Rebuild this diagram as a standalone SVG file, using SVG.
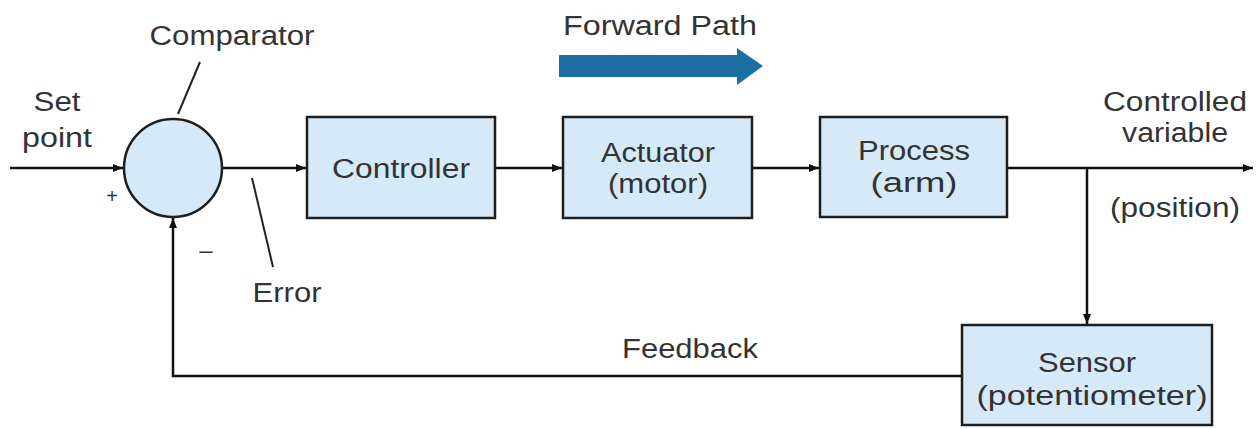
<svg xmlns="http://www.w3.org/2000/svg" width="1257" height="429" viewBox="0 0 1257 429">
<style>
text{font-family:"Liberation Sans",Arial,sans-serif;font-size:27px;fill:#333;}
.c{text-anchor:middle;}
.box{fill:#d6e9f8;stroke:#1e1e1e;stroke-width:2.5;}
.ln{fill:none;stroke:#111;stroke-width:2.5;}
.ptr{fill:none;stroke:#222;stroke-width:2;}
</style>
<defs>
<marker id="ah" viewBox="0 0 10 8" refX="10" refY="4" markerWidth="10" markerHeight="8" markerUnits="userSpaceOnUse" orient="auto">
<path d="M0,0 L10,4 L0,8 Z" fill="#111"/>
</marker>
</defs>
<rect width="1257" height="429" fill="#fff"/>
<g id="forward-path">
<polygon points="559,55 737,55 737,48 763,66 737,85 737,77 559,77" fill="#1b6fa3"/>
<text x="660" y="35" class="c" textLength="194" lengthAdjust="spacingAndGlyphs">Forward Path</text>
</g>
<g id="connectors">
<line class="ln" x1="10" y1="168" x2="123" y2="168" marker-end="url(#ah)"/>
<line class="ln" x1="222" y1="168" x2="306" y2="168" marker-end="url(#ah)"/>
<line class="ln" x1="495" y1="168" x2="562" y2="168" marker-end="url(#ah)"/>
<line class="ln" x1="752" y1="168" x2="819" y2="168" marker-end="url(#ah)"/>
<line class="ln" x1="1007" y1="168" x2="1253" y2="168" marker-end="url(#ah)"/>
<line class="ln" x1="1087" y1="168" x2="1087" y2="324" marker-end="url(#ah)"/>
<polyline class="ln" points="962,376 173,376 173,218" marker-end="url(#ah)"/>
<line class="ptr" x1="200" y1="62" x2="178" y2="114"/>
<line class="ptr" x1="252" y1="178" x2="273" y2="267"/>
</g>
<g id="comparator">
<circle cx="173" cy="168" r="49" class="box"/>
<text x="232" y="45" class="c" textLength="165" lengthAdjust="spacingAndGlyphs">Comparator</text>
<text x="112" y="203" class="c" style="font-size:20px">+</text>
<text x="206" y="258" class="c" style="font-size:24px">–</text>
</g>
<g id="setpoint">
<text x="57" y="111" class="c" textLength="47" lengthAdjust="spacingAndGlyphs">Set</text>
<text x="57" y="147" class="c" textLength="70" lengthAdjust="spacingAndGlyphs">point</text>
</g>
<g id="error">
<text x="287" y="302" class="c" textLength="69" lengthAdjust="spacingAndGlyphs">Error</text>
</g>
<g id="controller">
<rect x="307" y="117" width="188" height="101" class="box"/>
<text x="401" y="178" class="c" textLength="138" lengthAdjust="spacingAndGlyphs">Controller</text>
</g>
<g id="actuator">
<rect x="563" y="117" width="189" height="101" class="box"/>
<text x="658" y="162" class="c" textLength="114" lengthAdjust="spacingAndGlyphs">Actuator</text>
<text x="658" y="193" class="c" textLength="100" lengthAdjust="spacingAndGlyphs">(motor)</text>
</g>
<g id="process">
<rect x="820" y="117" width="187" height="100" class="box"/>
<text x="914" y="160" class="c" textLength="112" lengthAdjust="spacingAndGlyphs">Process</text>
<text x="914" y="192" class="c" textLength="87" lengthAdjust="spacingAndGlyphs">(arm)</text>
</g>
<g id="output">
<text x="1175" y="111" class="c" textLength="144" lengthAdjust="spacingAndGlyphs">Controlled</text>
<text x="1175" y="142" class="c" textLength="106" lengthAdjust="spacingAndGlyphs">variable</text>
<text x="1175" y="217" class="c" textLength="130" lengthAdjust="spacingAndGlyphs">(position)</text>
</g>
<g id="sensor">
<rect x="962" y="325" width="250" height="100" class="box"/>
<text x="1087" y="372" class="c" textLength="98" lengthAdjust="spacingAndGlyphs">Sensor</text>
<text x="1092" y="405" class="c" textLength="231" lengthAdjust="spacingAndGlyphs">(potentiometer)</text>
</g>
<g id="feedback">
<text x="690" y="358" class="c" textLength="136" lengthAdjust="spacingAndGlyphs">Feedback</text>
</g>
</svg>
